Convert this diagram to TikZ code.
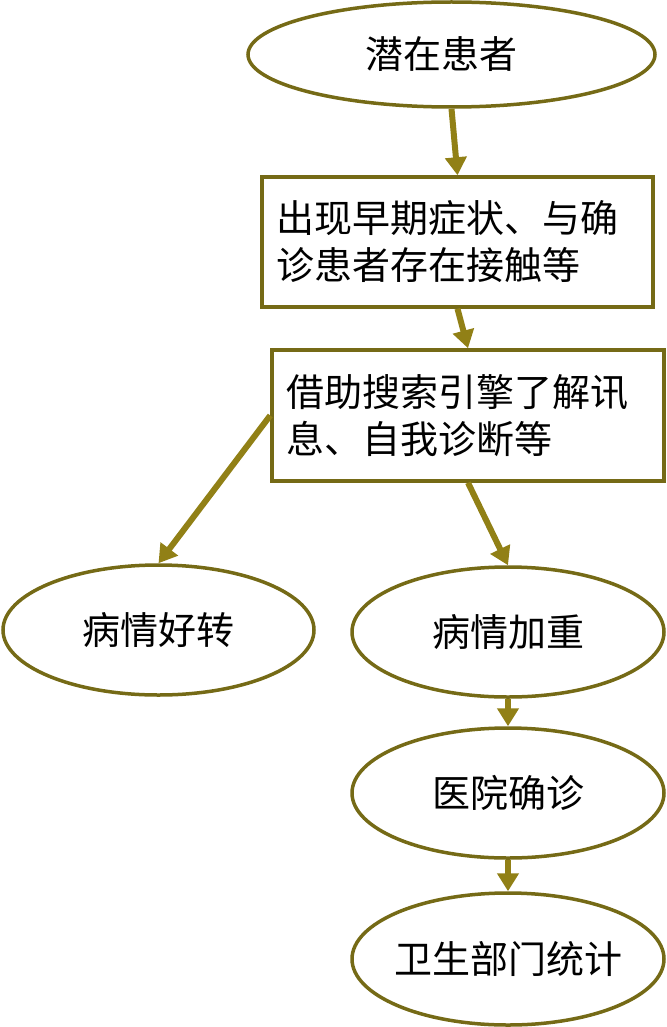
\documentclass[tikz,border=0pt]{standalone}
\usepackage{fontspec}
\setmainfont{Noto Sans CJK SC}
\usetikzlibrary{shapes.geometric,arrows.meta}
\definecolor{bordc}{RGB}{117,106,22}
\definecolor{arrc}{RGB}{145,128,22}
\tikzset{
  x=1pt,y=-1pt,
  ell/.style={ellipse,draw=bordc,line width=3.5pt,inner sep=0pt,fill=white,
    font=\fontsize{38}{47}\selectfont},
  boxn/.style={rectangle,draw=bordc,line width=3.5pt,inner xsep=14pt,inner ysep=0pt,
    align=left,font=\fontsize{38}{47}\selectfont},
  arr/.style={draw=arrc,line width=6pt,-{Triangle[width=21pt,length=18pt]}}
}
\begin{document}
\begin{tikzpicture}
\useasboundingbox (0,0) rectangle (666,1027);
\node[ell,minimum width=407pt,minimum height=105pt] (e1) at (451.5,54.5) {\makebox[0pt]{\hspace*{-20pt}潜在患者}};
\node[boxn,minimum width=391pt,minimum height=130pt,text width=363pt] (b1) at (457.5,242) {出现早期症状、与确\\诊患者存在接触等};
\node[boxn,minimum width=392pt,minimum height=131pt,text width=364pt] (b2) at (468,415.5) {借助搜索引擎了解讯\\息、自我诊断等};
\node[ell,minimum width=311pt,minimum height=130pt] (e2) at (158.5,630) {\makebox[0pt]{病情好转}};
\node[ell,minimum width=312pt,minimum height=130pt] (e3) at (508,632) {\makebox[0pt]{病情加重}};
\node[ell,minimum width=312pt,minimum height=130pt] (e4) at (508,793) {\makebox[0pt]{医院确诊}};
\node[ell,minimum width=312pt,minimum height=132pt] (e5) at (508,959) {\makebox[0pt]{卫生部门统计}};
\draw[arr] (e1.south) -- (b1.north);
\draw[arr] (b1.south) -- (b2.north);
\draw[arr] (b2.west) -- (e2.north);
\draw[arr] (b2.south) -- (e3.north);
\draw[arr] (e3.south) -- (e4.north);
\draw[arr] (e4.south) -- (e5.north);
\end{tikzpicture}
\end{document}
